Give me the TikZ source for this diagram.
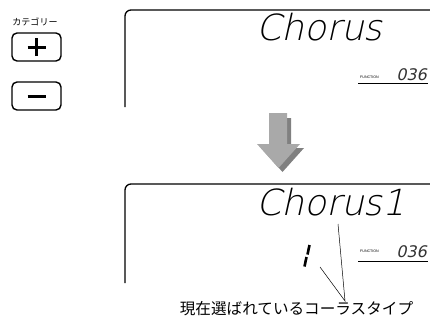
\documentclass[tikz,border=0pt]{standalone}
\usepackage{fontspec}
\setmainfont{Liberation Sans}
\newfontfamily\jpfont{Noto Sans CJK JP}
\newfontfamily\lcdfont[FakeSlant=0.22]{DejaVu Sans ExtraLight}
\newfontfamily\numfont[FakeSlant=0.22]{DejaVu Sans}
\usetikzlibrary{positioning}
\definecolor{arrowlight}{HTML}{A9A9A9}
\definecolor{arrowdark}{HTML}{808080}

\begin{document}
\begin{tikzpicture}[x=1pt,y=-1pt,
  btn/.style={draw,line width=1.4pt,rounded corners=5pt,minimum width=49pt,minimum height=28pt,inner sep=0pt},
  lcd/.style={font=\lcdfont\fontsize{36}{36}\selectfont,inner sep=0pt,anchor=base},
  fnlabel/.style={font=\fontsize{3.6}{4}\selectfont,inner sep=0pt,anchor=base west},
  fnnum/.style={font=\numfont\fontsize{16}{16}\selectfont,text=black!80,inner sep=0pt,anchor=base east},
  frame/.style={line width=1.3pt,rounded corners=6pt}]
  \useasboundingbox (0,0) rectangle (430,324);
  % category buttons
  \node[font=\jpfont\fontsize{9}{9}\selectfont,inner sep=0pt] (cat) at (35,22) {カテゴリー};
  \node[btn] (plus) at (36.5,47) {};
  \node[btn] (minus) at (36.5,96) {};
  \draw[line width=3pt] ([xshift=-9pt]plus.center) -- ([xshift=9pt]plus.center);
  \draw[line width=3pt] ([yshift=-9pt]plus.center) -- ([yshift=9pt]plus.center);
  \draw[line width=3pt] ([xshift=-9pt]minus.center) -- ([xshift=9pt]minus.center);
  % upper display
  \draw[frame] (125,107) -- (125,10) -- (431,10);
  \node[lcd] (name1) at (319.5,40) {Chorus};
  \node[fnlabel] (fn1) at (360,78) {FUNCTION};
  \node[fnnum] (num1) at (427,80.5) {036};
  \draw[line width=0.8pt] (358,83) -- (428,83);
  % arrow
  \fill[arrowdark] (273,118) -- (291,118) -- (291,148) -- (304,148) -- (282.5,172) -- (261,148) -- (273,148) -- cycle;
  \fill[arrowlight] (269,113) -- (287,113) -- (287,144) -- (300,144) -- (278.5,168) -- (257,144) -- (269,144) -- cycle;
  % lower display
  \draw[frame] (125,283) -- (125,184) -- (431,184);
  \node[lcd] (name2) at (331,215) {Chorus1};
  \node[fnlabel] (fn2) at (360,252.5) {FUNCTION};
  \node[fnnum] (num2) at (427,257) {036};
  \draw[line width=0.8pt] (358,261) -- (428,261);
  \draw[line width=2.6pt] (309.5,245) -- (307.5,254.5);
  \draw[line width=2.6pt] (306.5,257) -- (304.5,266.5);
  % leader to caption
  \node[font=\jpfont\fontsize{15.6}{16}\selectfont,inner sep=0pt] (caption) at (296.5,309) {現在選ばれているコーラスタイプ};
  \coordinate (meet) at (345,301);
  \coordinate (fromname) at (338,224);
  \coordinate (fromtype) at (320,267);
  \draw[line width=0.5pt] (fromname) -- (meet) -- (fromtype);
\end{tikzpicture}
\end{document}
